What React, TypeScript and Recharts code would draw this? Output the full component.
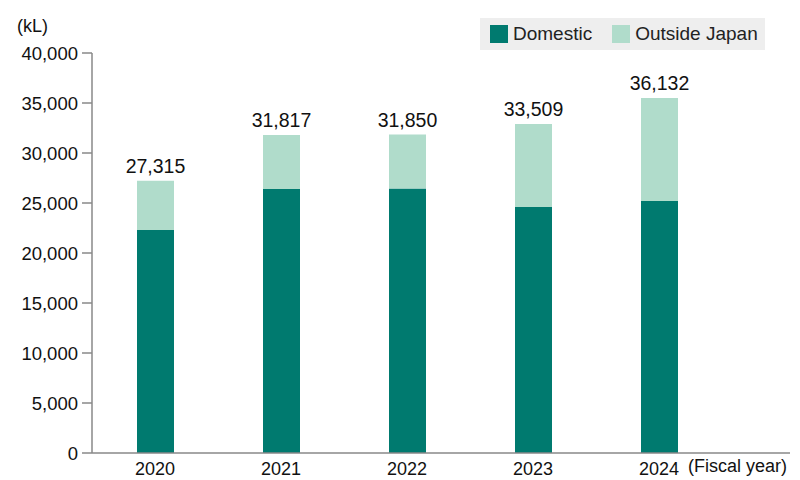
import { Bar, BarChart, LabelList, XAxis, YAxis } from 'recharts';

const years = ['2020', '2021', '2022', '2023', '2024'];
const domestic = [22300, 26400, 26450, 24600, 25200];
const outside = [4930, 5400, 5400, 8300, 10300];
const totalLabels = ['27,315', '31,817', '31,850', '33,509', '36,132'];
const yTicks = [0, 5000, 10000, 15000, 20000, 25000, 30000, 35000, 40000];

const DOMESTIC = '#007a6f';
const OUTSIDE = '#b0dccb';
const FONT = '"Liberation Sans", Arial, sans-serif';

const data = years.map((y, i) => ({ year: y, domestic: domestic[i], outside: outside[i], label: totalLabels[i] }));

function LegendBox() {
  const item = (color: string, text: string, gap: number) => (
    <span style={{ display: 'inline-flex', alignItems: 'center', marginRight: gap }}>
      <span style={{ width: 18, height: 18, background: color, display: 'inline-block', marginRight: 5 }} />
      <span>{text}</span>
    </span>
  );
  return (
    <div
      style={{
        position: 'absolute',
        left: 480,
        top: 18,
        width: 285,
        height: 32,
        background: '#eeeeee',
        display: 'flex',
        alignItems: 'center',
        paddingLeft: 10,
        boxSizing: 'border-box',
        fontFamily: FONT,
        fontSize: 19,
        color: '#222',
      }}
    >
      {item(DOMESTIC, 'Domestic', 20)}
      {item(OUTSIDE, 'Outside Japan', 0)}
    </div>
  );
}

const fmt = (v: number) => v.toLocaleString('en-US');

export default function App() {
  return (
    <div style={{ position: 'absolute', left: 0, top: 0, width: 800, height: 480, background: '#fff', fontFamily: FONT }}>
      <BarChart
        width={800}
        height={480}
        data={data}
        margin={{ top: 53, right: 10, bottom: 0, left: 0 }}
      >
        <XAxis
          dataKey="year"
          height={27}
          tickLine={false}
          axisLine={{ stroke: '#888', strokeWidth: 1.5 }}
          padding={{ left: 0, right: 68 }}
          tick={{ fontSize: 18, fill: '#111', fontFamily: FONT }}
          tickMargin={3}
        />
        <YAxis
          domain={[0, 40000]}
          ticks={yTicks}
          interval={0}
          width={92}
          tickSize={10}
          tickMargin={4}
          tickFormatter={fmt}
          axisLine={{ stroke: '#888', strokeWidth: 1.5 }}
          tickLine={{ stroke: '#888', strokeWidth: 1.5 }}
          tick={{ fontSize: 18.5, fill: '#111', fontFamily: FONT }}
        />
        <Bar dataKey="domestic" stackId="a" fill={DOMESTIC} barSize={37} isAnimationActive={false} />
        <Bar dataKey="outside" stackId="a" fill={OUTSIDE} barSize={37} isAnimationActive={false}>
          <LabelList
            dataKey="label"
            position="top"
            offset={8}
            style={{ fontSize: 19.5, fill: '#111', fontFamily: FONT }}
          />
        </Bar>
      </BarChart>
      <LegendBox />
      <div style={{ position: 'absolute', left: 17, top: 16, fontSize: 18, color: '#111' }}>(kL)</div>
      <div style={{ position: 'absolute', left: 688, top: 456, fontSize: 18, color: '#111' }}>(Fiscal year)</div>
    </div>
  );
}
